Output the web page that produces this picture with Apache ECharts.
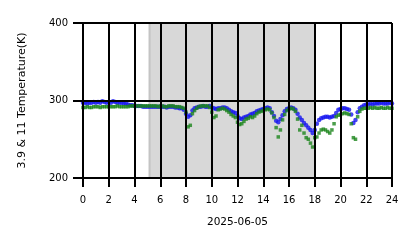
<!DOCTYPE html>
<html><head><meta charset="utf-8">
<script src="https://cdn.jsdelivr.net/npm/echarts@6/dist/echarts.min.js"></script>
<style>html,body{margin:0;padding:0;background:#fff}#c{width:418px;height:248px}</style>
</head><body><div id="c"></div>
<script>
// 10-minute samples, hours 0..24
const blue39 = [
 297,297,296,297,297,298,
 297,298,297,299,298,297,
 298,297,299,298,297,297,
 297,296,296,295,294,294,
 293,293,293,293,292,292,
 292,292,292,292,292,292,
 292,292,292,291,292,292,
 292,291,291,290,290,288,
 283,279,281,287,290,291,
 292,292,293,292,292,293,
 291,290,289,290,290,291,
 291,290,288,286,285,284,
 280,277,276,278,279,280,
 282,283,284,286,287,288,
 289,290,291,290,285,280,
 274,272,276,281,286,289,
 290,291,290,288,283,278,
 275,271,268,265,262,258,
 262,270,275,277,278,279,
 279,278,279,280,284,288,
 289,290,290,289,288,282,
 271,275,285,290,292,294,
 295,295,296,295,296,296,
 296,297,296,296,296,297,296
];
const green11 = [
 291,291,292,291,291,292,
 292,292,291,292,292,292,
 292,292,292,292,293,292,
 292,292,292,292,293,293,
 293,293,293,293,293,293,
 293,293,293,293,293,292,
 293,293,292,292,293,293,
 293,292,292,292,291,290,
 285,266,268,283,287,290,
 292,293,293,293,293,291,
 285,278,280,288,289,290,
 289,287,285,282,280,278,
 272,269,270,273,276,277,
 279,278,280,283,285,286,
 287,288,289,288,284,278,
 265,253,262,275,282,287,
 289,290,289,286,276,262,
 268,258,252,250,245,240,
 252,253,258,262,263,262,
 260,258,262,270,279,281,
 282,283,284,283,282,270,
 252,250,279,286,289,290,
 290,290,291,290,291,290,
 290,291,290,290,291,290,290
];
const xTicks = [0,2,4,6,8,10,12,14,16,18,20,22,24];
const yTicks = [200,300,400];
const shadeStart = 5.1, shadeEnd = 18.0;
const dateLabel = '2025-06-05';
const yName = '3.9 & 11 Temperature(K)';

const toPts = arr => arr.map((v,i)=>[i/6, v]);
const chart = echarts.init(document.getElementById('c'), null, {renderer:'canvas'});
const font = {fontFamily:'DejaVu Sans', fontSize:10, color:'#000'};
chart.setOption({
  animation:false,
  grid:{left:83, right:26, top:23, bottom:70},
  xAxis:{type:'value', min:0, max:24, interval:2, z:10,
    axisLine:{show:false},
    axisTick:{show:true, length:9, inside:false, lineStyle:{color:'#000', width:2}},
    splitLine:{show:true, lineStyle:{color:'#000', width:2}},
    axisLabel:{...font, margin:17, formatter:v=>xTicks.includes(v)?String(v):''},
    name:dateLabel, nameLocation:'middle', nameGap:39,
    nameTextStyle:{...font, fontSize:10.5}
  },
  yAxis:{type:'value', min:200, max:400, interval:100, z:10,
    axisLine:{show:false},
    axisTick:{show:true, length:10, lineStyle:{color:'#000', width:2}},
    splitLine:{show:true, lineStyle:{color:'#000', width:2}},
    axisLabel:{...font, margin:15, formatter:v=>yTicks.includes(v)?String(v):''},
    name:yName, nameLocation:'middle', nameGap:55, nameRotate:90,
    nameTextStyle:{...font, fontSize:11}
  },
  series:[
    {type:'scatter', data:[], silent:true,
     markArea:{silent:true, itemStyle:{color:'#d8d8d8'},
       data:[[{xAxis:shadeStart},{xAxis:shadeEnd}]]}},
    {type:'scatter', data:[], silent:true,
     markArea:{silent:true, itemStyle:{color:'#c4c4c4'},
       data:[[{xAxis:shadeStart},{xAxis:shadeStart+0.15}]]}},
    {name:'3.9', type:'scatter', symbol:'circle', symbolSize:4.5,
     itemStyle:{color:'#1515f0'}, data:toPts(blue39)},
    {name:'11', type:'scatter', symbol:'rect', symbolSize:3.5,
     itemStyle:{color:'#1d861d'}, data:toPts(green11)}
  ]
});
</script></body></html>
